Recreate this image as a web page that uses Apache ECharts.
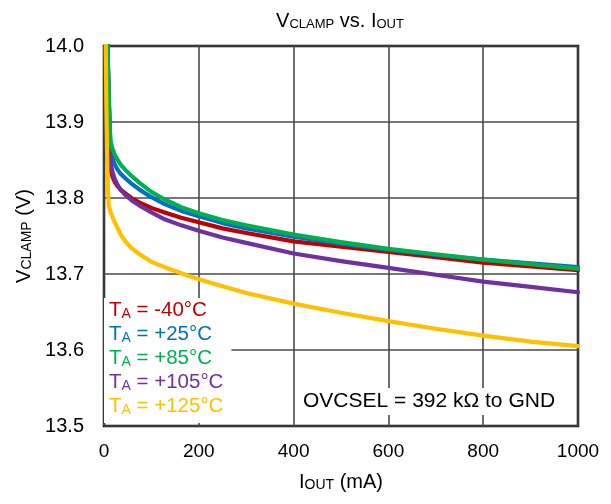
<!DOCTYPE html>
<html>
<head>
<meta charset="utf-8">
<script src="https://cdn.jsdelivr.net/npm/echarts@6/dist/echarts.min.js"></script>
<style>
html,body{margin:0;padding:0;background:#fff;}
#c{width:611px;height:504px;}
</style>
</head>
<body>
<div id="c"></div>
<script>
// Output current (mA)
const current = [3, 5, 7, 8.5, 10, 12, 14, 18, 22, 28, 35, 45, 58, 75, 100, 128, 163, 200, 250, 300, 400, 500, 600, 700, 800, 900, 1000];
// VCLAMP (V) per ambient temperature
const vMinus40 = [null, 14.05, null, null, 13.93, 13.88, 13.836, 13.828, 13.822, 13.816, 13.811, 13.806, 13.800, 13.794, 13.787, 13.781, 13.774, 13.768, 13.760, 13.754, 13.743, 13.736, 13.729, 13.722, 13.715, 13.710, 13.705];
const v25 = [null, 14.05, null, null, 13.93, 13.89, 13.861, 13.852, 13.845, 13.838, 13.832, 13.826, 13.819, 13.811, 13.801, 13.792, 13.783, 13.776, 13.767, 13.760, 13.749, 13.740, 13.732, 13.725, 13.719, 13.714, 13.709];
const v85 = [null, 14.05, null, null, 13.94, 13.895, 13.874, 13.865, 13.858, 13.851, 13.844, 13.837, 13.829, 13.820, 13.808, 13.798, 13.788, 13.780, 13.771, 13.764, 13.752, 13.742, 13.733, 13.726, 13.719, 13.713, 13.707];
const v105 = [null, 14.05, null, null, 13.93, 13.88, 13.845, 13.834, 13.826, 13.818, 13.811, 13.804, 13.797, 13.790, 13.781, 13.772, 13.764, 13.757, 13.748, 13.741, 13.727, 13.717, 13.708, 13.699, 13.690, 13.683, 13.676];
const v125 = [14.05, 13.92, 13.84, 13.81, 13.790, 13.785, 13.781, 13.775, 13.769, 13.761, 13.752, 13.743, 13.734, 13.726, 13.716, 13.709, 13.701, 13.693, 13.684, 13.675, 13.661, 13.649, 13.638, 13.628, 13.619, 13.611, 13.605];

const seriesNames = ['-40°C', '+25°C', '+85°C', '+105°C', '+125°C'];
const seriesValues = [vMinus40, v25, v85, v105, v125];
const seriesColors = ['#C00000', '#0070C0', '#00B050', '#7030A0', '#FFC000'];
const drawOrder = [0, 1, 3, 2, 4];

const xTicks = [0, 200, 400, 600, 800, 1000];
const yTicks = [13.5, 13.6, 13.7, 13.8, 13.9, 14.0];
const annotation = 'OVCSEL = 392 kΩ to GND';

const FONT = '"Liberation Sans", Arial, sans-serif';

function pairs(vals) {
  const out = [];
  for (let i = 0; i < current.length; i++) {
    if (vals[i] !== null) out.push([current[i], vals[i]]);
  }
  return out;
}

const series = drawOrder.map(i => ({
  name: seriesNames[i],
  type: 'line',
  data: pairs(seriesValues[i]),
  showSymbol: false,
  smooth: false,
  clip: true,
  lineStyle: { color: seriesColors[i], width: 4.2, join: 'round', cap: 'round' },
  itemStyle: { color: seriesColors[i] },
  emphasis: { disabled: true }
}));

const chart = echarts.init(document.getElementById('c'), null, { renderer: 'canvas' });
chart.setOption({
  animation: false,
  backgroundColor: '#fff',
  textStyle: { fontFamily: FONT },
  title: {
    text: '{v|V}{s|CLAMP}{v| vs. I}{s|OUT}',
    left: 335,
    textAlign: 'center',
    top: 4,
    textStyle: {
      fontWeight: 'normal',
      rich: {
        v: { fontFamily: FONT, fontSize: 20, fontWeight: 'normal', color: '#000', verticalAlign: 'bottom', lineHeight: 22 },
        s: { fontFamily: FONT, fontSize: 13, fontWeight: 'normal', color: '#000', verticalAlign: 'bottom', lineHeight: 13 }
      }
    }
  },
  grid: {
    left: 104, right: 33, top: 46, bottom: 78,
    show: true, borderColor: '#000', borderWidth: 2.5, backgroundColor: 'transparent'
  },
  xAxis: {
    type: 'value', min: 0, max: 1000, interval: 200,
    name: '{v|I}{s|OUT}{v| (mA)}',
    nameLocation: 'middle', nameGap: 44,
    nameTextStyle: {
      rich: {
        v: { fontFamily: FONT, fontSize: 20, color: '#000', verticalAlign: 'bottom', lineHeight: 22 },
        s: { fontFamily: FONT, fontSize: 14, color: '#000', verticalAlign: 'bottom', lineHeight: 14 }
      }
    },
    axisLine: { show: false },
    axisTick: { show: false },
    axisLabel: {
      color: '#000', fontSize: 19, fontFamily: FONT, margin: 16,
      formatter: v => xTicks.includes(v) ? String(v) : ''
    },
    splitLine: { show: true, lineStyle: { color: '#4a4a4a', width: 1.6 } }
  },
  yAxis: {
    type: 'value', min: 13.5, max: 14.0, interval: 0.1,
    name: '{v|V}{s|CLAMP}{v| (V)}',
    nameLocation: 'middle', nameGap: 65, nameRotate: 90,
    nameTextStyle: {
      rich: {
        v: { fontFamily: FONT, fontSize: 20, color: '#000', verticalAlign: 'bottom', lineHeight: 22 },
        s: { fontFamily: FONT, fontSize: 14, color: '#000', verticalAlign: 'bottom', lineHeight: 14 }
      }
    },
    axisLine: { show: false },
    axisTick: { show: false },
    axisLabel: {
      color: '#000', fontSize: 20, fontFamily: FONT, margin: 20,
      formatter: v => {
        const m = yTicks.find(t => Math.abs(t - v) < 1e-6);
        return m !== undefined ? m.toFixed(1) : '';
      }
    },
    splitLine: { show: true, lineStyle: { color: '#4a4a4a', width: 1.6 } }
  },
  legend: {
    orient: 'vertical',
    left: 104, top: 298,
    itemGap: 3,
    itemWidth: 0, itemHeight: 0,
    icon: 'none',
    padding: [2, 8, 6, 0],
    backgroundColor: '#fff',
    selectedMode: false,
    data: seriesNames.map((n, i) => ({ name: n, textStyle: { color: seriesColors[i] } })),
    formatter: n => '{t|T}{s|A}{t| = ' + n + '}',
    textStyle: {
      padding: [0, 0, 0, 0],
      rich: {
        t: { fontFamily: FONT, fontSize: 20.5, verticalAlign: 'bottom', lineHeight: 24 },
        s: { fontFamily: FONT, fontSize: 14, verticalAlign: 'bottom', lineHeight: 14 }
      }
    }
  },
  graphic: [{
    type: 'text',
    left: 297, top: 388, z: 100,
    style: {
      text: annotation,
      font: '21px ' + FONT,
      fill: '#000',
      backgroundColor: '#fff',
      padding: [3, 8, 3, 6]
    }
  }],
  series: series
});
</script>
</body>
</html>
